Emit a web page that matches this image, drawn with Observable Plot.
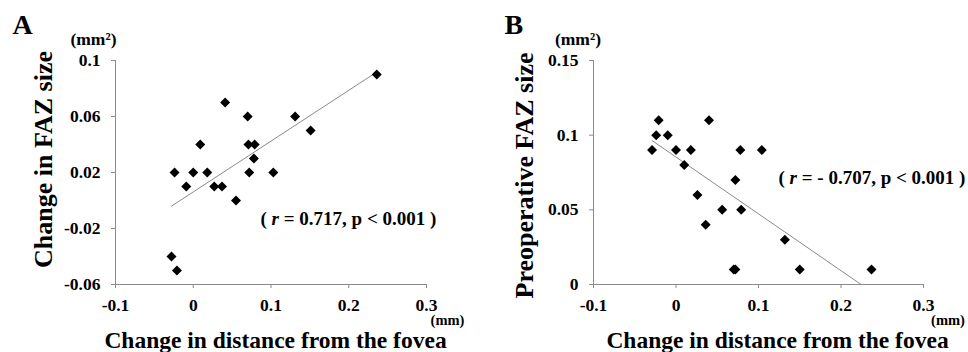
<!DOCTYPE html>
<html><head><meta charset="utf-8">
<script src="https://cdn.jsdelivr.net/npm/d3@7"></script>
<script src="https://cdn.jsdelivr.net/npm/@observablehq/plot@0.6"></script>
<style>
body{margin:0;background:#fff;}
#wrap{display:flex;width:968px;height:352px;overflow:hidden;background:#fff;}
#wrap svg{display:block;flex:none;}
</style></head><body><div id="wrap"></div>
<script>
// Panel A: change in distance (mm) vs change in FAZ size (mm2)
const distA = [0.236, 0.041, 0.070, 0.131, 0.151, 0.009, 0.071, 0.079, 0.078, -0.024, 0.000, 0.018, 0.072, 0.103, -0.009, 0.027, 0.037, 0.055, -0.028, -0.021];
const fazChangeA = [0.09, 0.07, 0.06, 0.06, 0.05, 0.04, 0.04, 0.04, 0.03, 0.02, 0.02, 0.02, 0.02, 0.02, 0.01, 0.01, 0.01, 0.00, -0.04, -0.05];
// Panel B: change in distance (mm) vs preoperative FAZ size (mm2)
const distB = [-0.029, -0.024, -0.021, -0.010, 0.000, 0.018, 0.010, 0.040, 0.026, 0.036, 0.056, 0.072, 0.078, 0.079, 0.104, 0.070, 0.072, 0.132, 0.150, 0.237];
const fazPreB = [0.09, 0.10, 0.11, 0.10, 0.09, 0.09, 0.08, 0.11, 0.06, 0.04, 0.05, 0.07, 0.09, 0.05, 0.09, 0.01, 0.01, 0.03, 0.01, 0.01];

const xTicks = [-0.1, 0, 0.1, 0.2, 0.3];
const yTicksA = [-0.06, -0.02, 0.02, 0.06, 0.1];
const yTicksB = [0, 0.05, 0.1, 0.15];
const panelLetters = ["A", "B"];
const yTitles = ["Change in FAZ size", "Preoperative FAZ size"];
const xTitle = "Change in distance from the fovea";
const yUnit = "(mm\u00B2)";
const xUnit = "(mm)";
const statsText = ["( r = 0.717, p < 0.001 )", "( r = - 0.707, p < 0.001 )"];

const FONT = "'Liberation Serif', 'Times New Roman', serif";
const GRAY = "#8a8a8a";

function styleText(el, size) {
  el.style.fontFamily = FONT;
  el.style.fontWeight = "bold";
  el.style.fontSize = size + "px";
  el.setAttribute("fill", "black");
}

function panel(o) {
  const data = o.xs.map((x, i) => ({x, y: o.ys[i]}));
  const sizes = new Map([
    [o.letter, 28], [yUnit, 17.5], [o.yTitle, 26], [xTitle, 23.5], [xUnit, 14.5], [o.stat, 19]
  ]);
  const svg = Plot.plot({
    width: 484, height: 352,
    marginLeft: o.ml, marginRight: o.mr, marginTop: 60, marginBottom: 68,
    style: {fontFamily: FONT, fontWeight: "bold", color: "black", background: "white", overflow: "visible"},
    x: {domain: [xTicks[0], xTicks[xTicks.length - 1]], inset: 0},
    y: {domain: [o.yTicks[0], o.yTicks[o.yTicks.length - 1]], inset: 0},
    marks: [
      Plot.ruleX([xTicks[0]], {stroke: GRAY, strokeWidth: 1}),
      Plot.ruleY([o.yTicks[0]], {stroke: GRAY, strokeWidth: 1}),
      Plot.axisX({ticks: xTicks, tickSize: 4, tickPadding: 10, tickFormat: d => String(d), stroke: GRAY, fill: "black", label: null, ariaLabel: "x-axis"}),
      Plot.axisY({ticks: o.yTicks, tickSize: 4, tickPadding: 11, tickFormat: d => String(d), stroke: GRAY, fill: "black", label: null, ariaLabel: "y-axis"}),
      Plot.linearRegressionY(data, {x: "x", y: "y", ci: 0, stroke: GRAY, strokeWidth: 1, clip: true}),
      Plot.dot(data, {x: "x", y: "y", symbol: "diamond2", r: 4.5, fill: "black", stroke: "none"}),
      Plot.text([o.letter], {text: d => d, frameAnchor: "top-left", dx: o.letterDx, dy: -35, textAnchor: "start", lineAnchor: "middle", fill: "black"}),
      Plot.text([yUnit], {text: d => d, frameAnchor: "top-left", dx: o.unitDx, dy: -21, textAnchor: "middle", lineAnchor: "middle", fill: "black"}),
      Plot.text([o.yTitle], {text: d => d, frameAnchor: "left", dx: o.yTitleDx, dy: o.yTitleDy, rotate: -90, textAnchor: "middle", lineAnchor: "middle", fill: "black"}),
      Plot.text([xTitle], {text: d => d, frameAnchor: "bottom", dx: o.xTitleDx, dy: 56, textAnchor: "middle", lineAnchor: "middle", fill: "black"}),
      Plot.text([xUnit], {text: d => d, frameAnchor: "bottom-right", dx: o.xUnitDx, dy: 36, textAnchor: "middle", lineAnchor: "middle", fill: "black"}),
      Plot.text([o.stat], {text: d => d, frameAnchor: "top-left", dx: o.statDx, dy: o.statDy, textAnchor: "start", lineAnchor: "middle", fill: "black"})
    ]
  });
  svg.querySelectorAll("text").forEach(t => {
    const s = sizes.get(t.textContent);
    styleText(t, s !== undefined ? s : 17.5);
    // italicize the "r" in the statistics annotation
    if (t.textContent === o.stat) {
      const rest = o.stat.slice(3);
      while (t.firstChild) t.removeChild(t.firstChild);
      t.appendChild(document.createTextNode("( "));
      const ts = document.createElementNS("http://www.w3.org/2000/svg", "tspan");
      ts.setAttribute("font-style", "italic");
      ts.textContent = "r";
      t.appendChild(ts);
      t.appendChild(document.createTextNode(rest));
    }
  });
  return svg;
}

const wrap = document.getElementById("wrap");
wrap.appendChild(panel({
  xs: distA, ys: fazChangeA, yTicks: yTicksA, ml: 115, mr: 58,
  letter: panelLetters[0], letterDx: -103, unitDx: -22,
  yTitle: yTitles[0], yTitleDx: -72, yTitleDy: -13,
  xTitleDx: 4.5, xUnitDx: 21,
  stat: statsText[0], statDx: 145, statDy: 158
}));
wrap.appendChild(panel({
  xs: distB, ys: fazPreB, yTicks: yTicksB, ml: 109, mr: 45,
  letter: panelLetters[1], letterDx: -89, unitDx: -15.5,
  yTitle: yTitles[1], yTitleDx: -69, yTitleDy: 3,
  xTitleDx: 19, xUnitDx: 24.5,
  stat: statsText[1], statDx: 185, statDy: 117
}));
</script></body></html>
